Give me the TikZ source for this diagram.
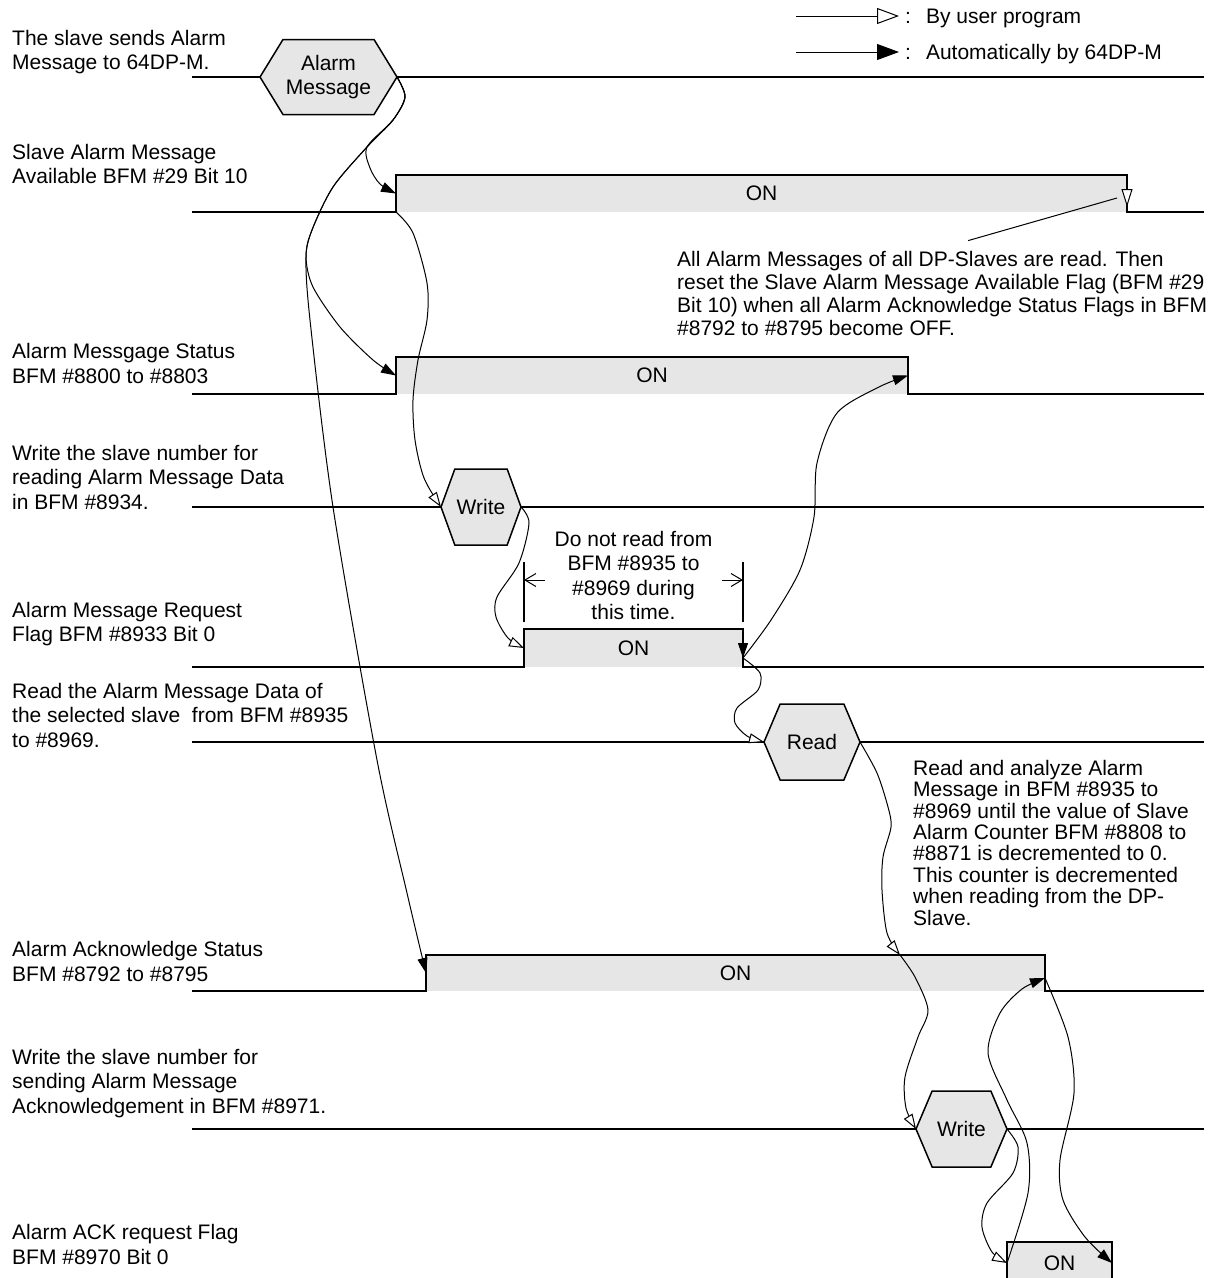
\documentclass[tikz,border=0pt]{standalone}
\usepackage{fontspec}
\setmainfont{Liberation Sans}
\usepackage{tikz}
\usetikzlibrary{
  arrows.meta,
  shapes.symbols
}
\definecolor{PulseGray}{RGB}{230, 230, 230}
\newcommand{\RowFont}{\fontsize{21}{24.5}\selectfont}
\newcommand{\NoteFont}{\fontsize{21}{23}\selectfont}
\newcommand{\TightFont}{\fontsize{21}{21.4}\selectfont}
\tikzset{
    waveline/.style={line width=2.3pt},
    pulsebox/.style={fill=PulseGray, inner sep=0pt, outer sep=0pt, font=\RowFont},
    hexbox/.style={signal, signal to=west and east, fill=PulseGray, draw, line width=1.5pt,
        inner sep=0pt, outer sep=0pt, align=center, font=\RowFont},
    rowlabel/.style={anchor=base west, align=left, inner sep=0pt, font=\RowFont},
    userArrow/.style={-{Triangle[open, fill=white, length=15pt, width=10pt]}, line width=1pt},
    autoArrow/.style={-{Triangle[length=15pt, width=10pt]}, line width=1pt},
    dimArrow/.style={-{Straight Barb[length=11pt, width=13pt]}, line width=1pt},
    dimtick/.style={line width=2pt},
    legendtext/.style={anchor=west, inner xsep=6pt, inner ysep=0pt, text depth=0pt, font=\RowFont}
}

\begin{document}
\begin{tikzpicture}[x=1pt, y=-1pt]
\useasboundingbox (0,0) rectangle (1210,1278);

% legend
\node[legendtext] (legUser) at (899,16) {:\hspace{15pt}By user program};
\node[legendtext] (legAuto) at (899,52) {:\hspace{15pt}Automatically by 64DP-M};
\coordinate (legUserTail) at (796,16);
\coordinate (legAutoTail) at (796,52);
\draw[-{Triangle[open, fill=white, length=22pt, width=16pt]}, line width=1pt] (legUserTail) -- (legUser.west);
\draw[-{Triangle[length=22pt, width=16pt]}, line width=1pt] (legAutoTail) -- (legAuto.west);

% pulses
\node[pulsebox, minimum width=731pt, minimum height=37pt] (samaON) at (761.5,193.5) {ON};
\node[pulsebox, minimum width=512pt, minimum height=37pt] (statusON) at (652,375.5) {ON};
\node[pulsebox, minimum width=219pt, minimum height=38pt] (reqON) at (633.5,648) {ON};
\node[pulsebox, minimum width=619pt, minimum height=36pt] (ackON) at (735.5,973) {ON};
\node[pulsebox, minimum width=105pt, minimum height=42pt] (ackReqON) at (1059.5,1263) {ON};

% hexagons
\node[hexbox, minimum width=137pt, minimum height=75pt, signal pointer angle=117] (hexAlarm) at (328.5,77) {Alarm\\Message};
\node[hexbox, minimum width=80pt, minimum height=76pt, signal pointer angle=140] (hexW1) at (481,507) {Write};
\node[hexbox, minimum width=96pt, minimum height=76pt, signal pointer angle=134] (hexRd) at (812,742) {Read};
\node[hexbox, minimum width=91pt, minimum height=76pt, signal pointer angle=134] (hexW2) at (961.5,1129) {Write};

% signal lines
\draw[waveline] (192,77) -- (hexAlarm.west);
\draw[waveline] (hexAlarm.east) -- (1204,77);
\draw[waveline] (192,212) -- (samaON.south west) -- (samaON.north west) -- (samaON.north east) -- (samaON.south east) -- (1204,212);
\draw[waveline] (192,394) -- (statusON.south west) -- (statusON.north west) -- (statusON.north east) -- (statusON.south east) -- (1204,394);
\draw[waveline] (192,507) -- (hexW1.west);
\draw[waveline] (hexW1.east) -- (1204,507);
\draw[waveline] (192,667) -- (reqON.south west) -- (reqON.north west) -- (reqON.north east) -- (reqON.south east) -- (1204,667);
\draw[waveline] (192,742) -- (hexRd.west);
\draw[waveline] (hexRd.east) -- (1204,742);
\draw[waveline] (192,991) -- (ackON.south west) -- (ackON.north west) -- (ackON.north east) -- (ackON.south east) -- (1204,991);
\draw[waveline] (192,1129) -- (hexW2.west);
\draw[waveline] (hexW2.east) -- (1204,1129);
\draw[waveline] (ackReqON.south west) -- (ackReqON.north west) -- (ackReqON.north east) -- (ackReqON.south east);

% row labels (base = last line)
\node[rowlabel] (lblAlarm) at (12,69.5) {The slave sends Alarm\\Message to 64DP-M.};
\node[rowlabel] (lblSama) at (12,183.5) {Slave Alarm Message\\Available BFM \#29 Bit 10};
\node[rowlabel] (lblStatus) at (12,383) {Alarm Messgage Status\\BFM \#8800 to \#8803};
\node[rowlabel] (lblW1) at (12,509) {Write the slave number for\\reading Alarm Message Data\\in BFM \#8934.};
\node[rowlabel] (lblReq) at (12,641.5) {Alarm Message Request\\Flag BFM \#8933 Bit 0};
\node[rowlabel] (lblRd) at (12,747) {Read the Alarm Message Data of\\the selected slave\ \ from BFM \#8935\\to \#8969.};
\node[rowlabel] (lblAck) at (12,981) {Alarm Acknowledge Status\\BFM \#8792 to \#8795};
\node[rowlabel] (lblW2) at (12,1113) {Write the slave number for\\sending Alarm Message\\Acknowledgement in BFM \#8971.};
\node[rowlabel] (lblAckReq) at (12,1264) {Alarm ACK request Flag\\BFM \#8970 Bit 0};

% notes
\node[rowlabel, font=\NoteFont] (noteSama) at (677,335) {All Alarm Messages of all DP-Slaves are read. Then\\reset the Slave Alarm Message Available Flag (BFM \#29\\Bit 10) when all Alarm Acknowledge Status Flags in BFM\\\#8792 to \#8795 become OFF.};
\node[rowlabel, font=\TightFont] (noteRead) at (913,925) {Read and analyze Alarm\\Message in BFM \#8935 to\\\#8969 until the value of Slave\\Alarm Counter BFM \#8808 to\\\#8871 is decremented to 0.\\This counter is decremented\\when reading from the DP-\\Slave.};
\node[rowlabel, anchor=base, align=center] (noteWait) at (633.5,619.5) {Do not read from\\BFM \#8935 to\\\#8969 during\\this time.};

% time span of the request flag
\draw[dimtick] ([yshift=7pt]reqON.north west) -- ([yshift=67pt]reqON.north west);
\draw[dimtick] ([yshift=7pt]reqON.north east) -- ([yshift=67pt]reqON.north east);
\draw[dimArrow] ([xshift=21pt, yshift=49pt]reqON.north west) -- ([yshift=49pt]reqON.north west);
\draw[dimArrow] ([xshift=-21pt, yshift=49pt]reqON.north east) -- ([yshift=49pt]reqON.north east);

% sequence
\coordinate (reqFall) at ([yshift=9pt]reqON.south east);
\coordinate (ackMid) at (900,955);
\coordinate (ackFall) at ([yshift=-5pt]ackON.east);
\draw[autoArrow] plot[smooth] coordinates {(hexAlarm.east) (405,97) (393,120) (367,147) (370,168) (380,184) (samaON.west)};
\draw[autoArrow] plot[smooth] coordinates {(hexAlarm.east) (405,97) (393,120) (367,147) (333,187) (312,230) (306,257) (313,287) (340,327) (373,360) (statusON.west)};
\draw[autoArrow] plot[smooth] coordinates {(hexAlarm.east) (405,97) (393,120) (367,147) (333,187) (312,230) (306,257) (310,320) (333,507) (377,760) (407,893) (ackON.west)};
\draw[userArrow] plot[smooth] coordinates {(samaON.south west) (413,233) (427,283) (427,320) (418,360) (413,400) (415,440) (424,478) (hexW1.west)};
\draw[userArrow] plot[smooth] coordinates {(hexW1.east) (529,523) (519,563) (497,597) (496,617) (508,638) (reqON.west)};
\draw[autoArrow] (reqON.north east) -- (reqFall);
\draw[autoArrow] plot[smooth] coordinates {(reqFall) (771,620) (800,570) (814,517) (817,463) (837,413) (879,387) (statusON.east)};
\draw[userArrow] plot[smooth] coordinates {(reqFall) (760,673) (758,690) (737,708) (735,723) (747,736) (hexRd.west)};
\draw[userArrow] plot[smooth] coordinates {(hexRd.east) (877,773) (888,807) (891,827) (883,857) (882,890) (887,933) (ackMid)};
\draw[userArrow] plot[smooth] coordinates {(ackMid) (915,977) (928,1010) (918,1037) (905,1077) (906,1108) (hexW2.west)};
\draw[userArrow] plot[smooth] coordinates {(hexW2.east) (1018,1147) (1013,1173) (987,1203) (982,1227) (992,1252) (ackReqON.west)};
\draw[autoArrow] plot[smooth] coordinates {(ackReqON.west) (1028,1193) (1027,1143) (1007,1100) (988,1053) (1000,1013) (1022,989) (ackFall)};
\draw[autoArrow] plot[smooth] coordinates {(ackFall) (1068,1037) (1074,1093) (1060,1160) (1063,1200) (1085,1237) (ackReqON.east)};
\draw[-{Triangle[open, fill=white, length=18pt, width=11pt]}, line width=1pt] (samaON.north east) -- ([yshift=5pt]samaON.south east);
\draw[line width=1pt] ([xshift=26pt, yshift=10pt]noteSama.north) -- ([xshift=-10pt, yshift=14pt]samaON.south east);
\end{tikzpicture}
\end{document}
